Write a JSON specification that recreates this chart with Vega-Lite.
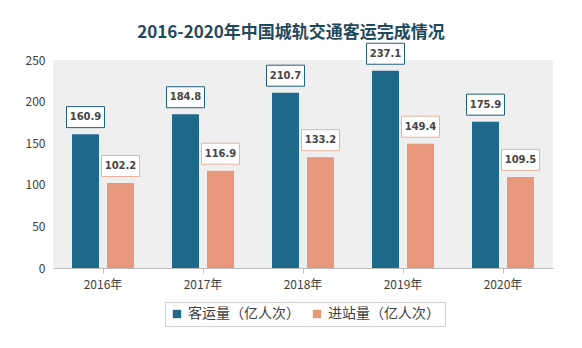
{
  "$schema": "https://vega.github.io/schema/vega-lite/v6.json",
  "width": 500,
  "height": 208,
  "autosize": "none",
  "padding": {"left": 53, "top": 60, "right": 29, "bottom": 80},
  "background": "#ffffff",
  "config": {
    "view": {"fill": "#efefef", "stroke": null},
    "font": "Noto Sans CJK SC"
  },
  "title": {
    "text": "2016-2020年中国城轨交通客运完成情况",
    "fontSize": 17,
    "fontWeight": "bold",
    "color": "#1f4a5c",
    "anchor": "middle",
    "baseline": "bottom",
    "dx": -12,
    "offset": -18
  },
  "data": {
    "values": [
      {"year": "2016年", "series": "客运量（亿人次）", "value": 160.9},
      {"year": "2016年", "series": "进站量（亿人次）", "value": 102.2},
      {"year": "2017年", "series": "客运量（亿人次）", "value": 184.8},
      {"year": "2017年", "series": "进站量（亿人次）", "value": 116.9},
      {"year": "2018年", "series": "客运量（亿人次）", "value": 210.7},
      {"year": "2018年", "series": "进站量（亿人次）", "value": 133.2},
      {"year": "2019年", "series": "客运量（亿人次）", "value": 237.1},
      {"year": "2019年", "series": "进站量（亿人次）", "value": 149.4},
      {"year": "2020年", "series": "客运量（亿人次）", "value": 175.9},
      {"year": "2020年", "series": "进站量（亿人次）", "value": 109.5}
    ]
  },
  "encoding": {
    "x": {
      "field": "year",
      "type": "nominal",
      "scale": {"paddingInner": 0.38, "paddingOuter": 0.19},
      "axis": {
        "title": null,
        "labelAngle": 0,
        "domainColor": "#bfbfbf",
        "tickColor": "#bfbfbf",
        "tickSize": 5,
        "labelPadding": 6,
        "labelFontSize": 12,
        "labelColor": "#404040"
      }
    },
    "xOffset": {
      "field": "series",
      "type": "nominal",
      "sort": ["客运量（亿人次）", "进站量（亿人次）"],
      "scale": {"paddingInner": 0.2286}
    },
    "y": {
      "field": "value",
      "type": "quantitative",
      "scale": {"domain": [0, 250]},
      "axis": {
        "title": null,
        "domain": false,
        "ticks": false,
        "grid": false,
        "values": [0, 50, 100, 150, 200, 250],
        "labelFontSize": 12,
        "labelColor": "#404040",
        "labelPadding": 8
      }
    }
  },
  "layer": [
    {
      "mark": {"type": "bar"},
      "encoding": {
        "color": {
          "field": "series",
          "type": "nominal",
          "sort": ["客运量（亿人次）", "进站量（亿人次）"],
          "scale": {"range": ["#1f6a8b", "#e8987a"]},
          "legend": {
            "title": null,
            "orient": "none",
            "legendX": 112,
            "legendY": 242,
            "direction": "horizontal",
            "strokeColor": "#d0d0d0",
            "fillColor": "#ffffff",
            "padding": 5,
            "symbolType": "square",
            "symbolSize": 70,
            "labelFontSize": 14,
            "labelColor": "#404040",
            "columnPadding": 10
          }
        }
      }
    },
    {
      "mark": {
        "type": "point",
        "shape": "M-1,-0.553H1V0.553H-1Z",
        "size": 1444,
        "filled": true,
        "fill": "#ffffff",
        "opacity": 1,
        "strokeWidth": 1,
        "yOffset": -17
      },
      "encoding": {
        "stroke": {
          "field": "series",
          "type": "nominal",
          "sort": ["客运量（亿人次）", "进站量（亿人次）"],
          "scale": {"range": ["#1f5f7a", "#e6b4a0"]},
          "legend": null
        }
      }
    },
    {
      "mark": {
        "type": "text",
        "yOffset": -17,
        "font": "DejaVu Sans",
        "fontSize": 10,
        "fontWeight": "bold",
        "color": "#454545"
      },
      "encoding": {
        "text": {"field": "value", "type": "quantitative", "format": ".1f"}
      }
    }
  ]
}
